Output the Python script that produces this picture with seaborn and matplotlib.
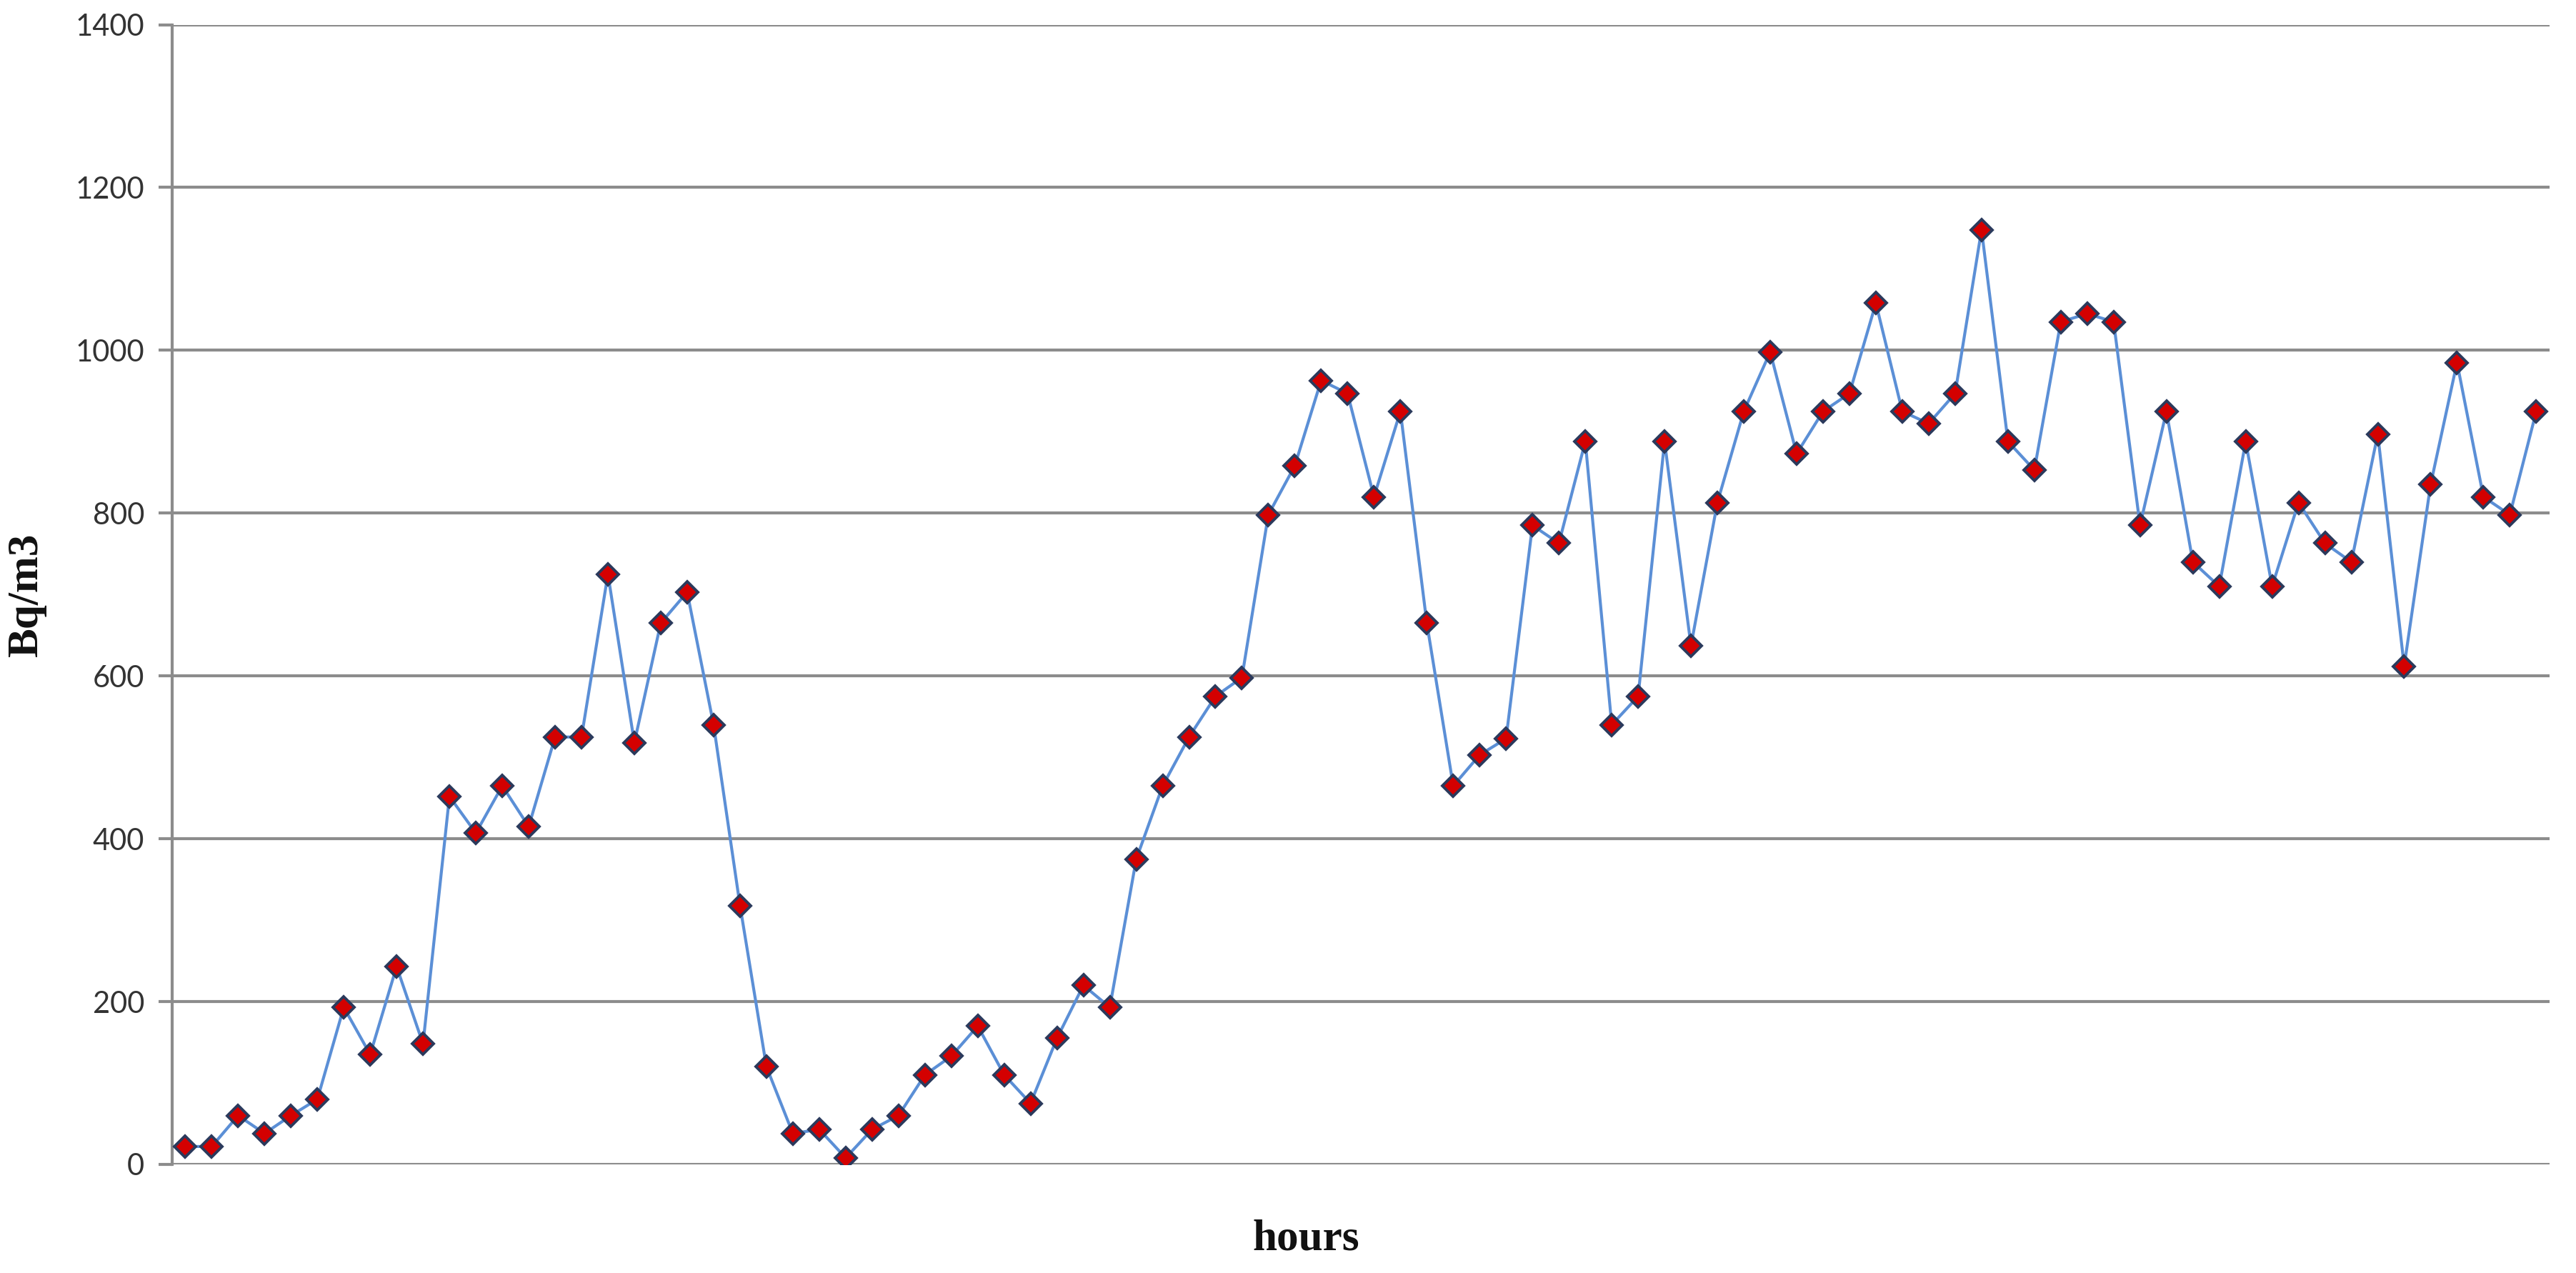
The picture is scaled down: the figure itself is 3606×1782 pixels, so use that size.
import numpy as np
import pandas as pd
import matplotlib
matplotlib.use("Agg")
import matplotlib.pyplot as plt
import seaborn as sns

# radon concentration, one value per hour
bq_m3 = [
    22, 22, 60, 38, 60, 80, 193, 135, 243, 148,
    452, 407, 465, 415, 525, 525, 725, 518, 665, 703,
    540, 318, 120, 38, 43, 8, 43, 60, 110, 133,
    170, 110, 75, 155, 220, 193, 375, 465, 525, 575,
    598, 798, 858, 963, 947, 820, 925, 665, 465, 503,
    523, 785, 763, 888, 540, 575, 888, 637, 813, 925,
    998, 873, 925, 947, 1058, 925, 910, 947, 1148, 888,
    853, 1035, 1045, 1035, 785, 925, 740, 710, 888, 710,
    813, 763, 740, 897, 612, 835, 985, 820, 798, 925,
]
hours = list(range(1, len(bq_m3) + 1))
y_ticks = [0, 200, 400, 600, 800, 1000, 1200, 1400]

df = pd.DataFrame({"hours": hours, "Bq/m3": bq_m3})

sns.set_style("white")
plt.rcParams["font.family"] = ["Lato", "DejaVu Sans"]

fig = plt.figure(figsize=(36.06, 17.82), dpi=100)
ax = fig.add_axes([0.0668, 0.0853, 0.9229, 0.8953])

sns.lineplot(data=df, x="hours", y="Bq/m3", ax=ax, color="#5b8fd6",
             linewidth=3, marker="D", markersize=15,
             markerfacecolor="#d40000", markeredgecolor="#2b3a5c",
             markeredgewidth=2.8, zorder=3)

ax.set_xlim(0.5, len(bq_m3) + 0.5)
ax.set_ylim(0, 1400)
ax.set_yticks(y_ticks)
ax.set_yticklabels([str(t) for t in y_ticks], fontsize=30, color="#333333")
ax.set_xticks([])
ax.yaxis.grid(True, color="#8c8c8c", linewidth=3)
ax.tick_params(axis="y", length=14, width=3, color="#8c8c8c", pad=14, left=True)
for s in ["top", "right", "bottom"]:
    ax.spines[s].set_visible(False)
ax.spines["left"].set_color("#8c8c8c")
ax.spines["left"].set_linewidth(3)

ax.set_ylabel("Bq/m3", fontsize=44, fontweight="bold",
              family=["Liberation Serif"], color="#111111")
ax.yaxis.set_label_coords(-0.053, 0.5)
ax.set_xlabel("hours", fontsize=44, fontweight="bold",
              family=["Liberation Serif"], color="#111111", va="top")
ax.xaxis.set_label_coords(0.477, -0.048)

fig.savefig("out.png", dpi=100)
